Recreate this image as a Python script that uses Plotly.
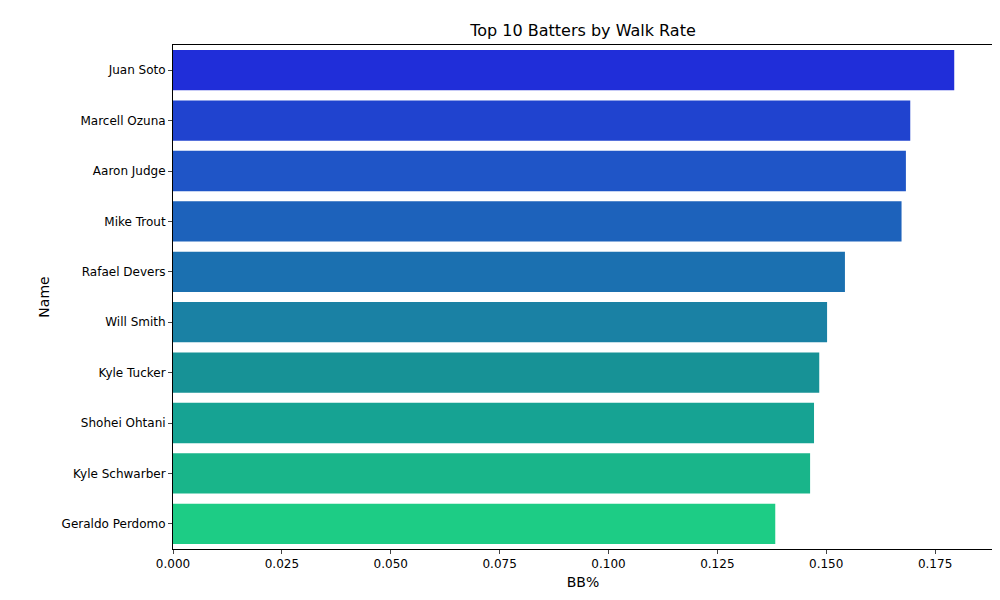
import plotly.graph_objects as go

names = ["Juan Soto", "Marcell Ozuna", "Aaron Judge", "Mike Trout", "Rafael Devers",
         "Will Smith", "Kyle Tucker", "Shohei Ohtani", "Kyle Schwarber", "Geraldo Perdomo"]
bb = [0.1794, 0.1693, 0.1683, 0.1673, 0.1543, 0.1502, 0.1484, 0.1472, 0.1463, 0.1383]
colors = ["#202ed9", "#2043cf", "#1f55c7", "#1d62bb", "#1b70b0",
          "#1a81a4", "#179296", "#16a393", "#19b58a", "#1dcc85"]
tickvals = [0.0, 0.025, 0.05, 0.075, 0.1, 0.125, 0.15, 0.175]
ticktext = ["0.000", "0.025", "0.050", "0.075", "0.100", "0.125", "0.150", "0.175"]

fig = go.Figure(go.Bar(x=bb, y=names, orientation="h", marker=dict(color=colors, line_width=0), width=0.8))
fig.update_layout(
    width=1000, height=600, plot_bgcolor="white", paper_bgcolor="white",
    margin=dict(l=165, r=15, t=37, b=59),
    font=dict(family="DejaVu Sans", size=12, color="black"),
    title=dict(text="Top 10 Batters by Walk Rate", x=0.575, xanchor="center", y=0.962, yanchor="middle",
               font=dict(size=16)),
    showlegend=False,
)
fig.update_xaxes(range=[0, 0.1883], tickvals=tickvals, ticktext=ticktext, showgrid=False, zeroline=False,
                 showline=True, linecolor="black", mirror=True, ticks="outside", ticklen=4,
                 title=dict(text="BB%", standoff=6))
fig.update_yaxes(autorange="reversed", showgrid=False, showline=True, linecolor="black", mirror=True,
                 ticks="outside", ticklen=4, range=[9.5, -0.5],
                 title=dict(text="Name", standoff=8))
fig.write_html("out.html")
